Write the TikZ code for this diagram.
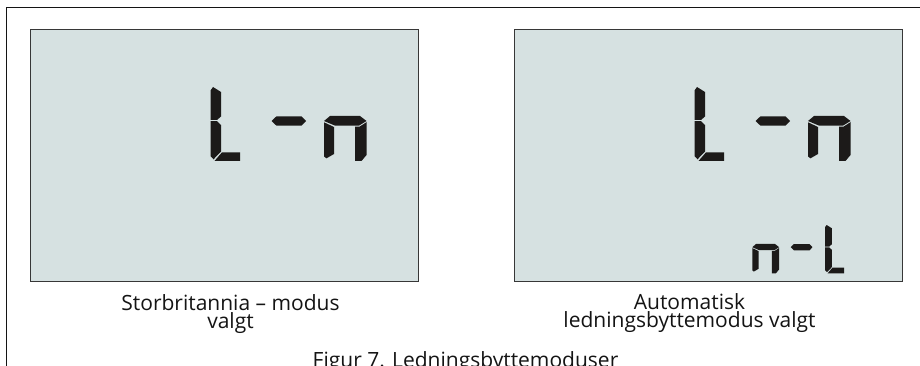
\documentclass[tikz,border=0pt]{standalone}
\usepackage{fontspec}
\setmainfont{Open Sans}
\definecolor{lcdfill}{RGB}{214,225,225}
\definecolor{lcdborder}{RGB}{55,55,55}
\definecolor{segc}{RGB}{28,26,25}
\definecolor{inkc}{RGB}{20,20,20}
\newcommand\mysegL{%
 \fill[seg] (0,3.5)--(2.5,0)--(10.5,5)--(10.5,29.5)--(6.5,33)--(0,33)--cycle;
 \fill[seg] (0,34.2)--(6.5,34.2)--(10.5,38)--(10.5,64.5)--(3,72.3)--(0,69)--cycle;
 \fill[seg] (4,74)--(11.5,65.3)--(29.5,65.3)--(29.5,74)--cycle;}
\newcommand\mysegN{%
 \fill[seg] (0,34)--(6,29)--(36,29)--(42.5,34)--(35,38.6)--(11,38.6)--cycle;
 \fill[seg] (0,35.3)--(10,40)--(10,67)--(2.5,71.3)--(0,69.5)--cycle;
 \fill[seg] (31,39.6)--(35.6,39.6)--(42.5,35.2)--(42.5,68)--(37.5,74)--(31,74)--cycle;}
\newcommand\mysegD{%
 \fill[seg] (0,34)--(5,29.3)--(30,29.3)--(34.5,34)--(30,38.7)--(5,38.7)--cycle;}
\begin{document}
\begin{tikzpicture}[x=1pt,y=-1pt,
  seg/.style={fill=segc},
  lcd/.style={draw=lcdborder,fill=lcdfill,line width=1pt,minimum width=388pt,minimum height=251pt,inner sep=0pt},
  caption/.style={font=\fontsize{21}{18.3}\selectfont,text=inkc,align=center,inner sep=0pt,anchor=base},
  frameline/.style={draw=inkc,line width=1.6pt}]
\useasboundingbox (0,0) rectangle (920,366);
\fill[white] (0,0) rectangle (920,366);
% outer frame
\coordinate (fbl) at (6.5,372);
\coordinate (ftl) at (6.5,7.5);
\coordinate (ftr) at (925,7.5);
\draw[frameline] (fbl) -- (ftl) -- (ftr);
% displays
\node[lcd] (lcdA) at (224.4,155.5) {};
\node[lcd] (lcdB) at (708.5,155.5) {};
% left display digits
\begin{scope}[shift={(210.5,87)}]\mysegL\end{scope}
\begin{scope}[shift={(271.5,87)}]\mysegD\end{scope}
\begin{scope}[shift={(324,87)}]\mysegN\end{scope}
% right display digits
\begin{scope}[shift={(694.5,87)}]\mysegL\end{scope}
\begin{scope}[shift={(755.5,87)}]\mysegD\end{scope}
\begin{scope}[shift={(808,87)}]\mysegN\end{scope}
% small digits
\begin{scope}[shift={(752.3,225)},xscale=0.63,yscale=0.653]\mysegN\end{scope}
\begin{scope}[shift={(790.7,225)},xscale=0.63,yscale=0.653]\mysegD\end{scope}
\begin{scope}[shift={(825,225)},xscale=0.65,yscale=0.653]\mysegL\end{scope}
% captions
\node[caption] (capA) at (230.5,328.3) {Storbritannia – modus\\valgt};
\node[caption] (capB) at (689.5,327.8) {Automatisk\\ledningsbyttemodus valgt};
\node[caption] (fig) at (465.5,367.5) {Figur 7. Ledningsbyttemoduser};
\end{tikzpicture}
\end{document}
